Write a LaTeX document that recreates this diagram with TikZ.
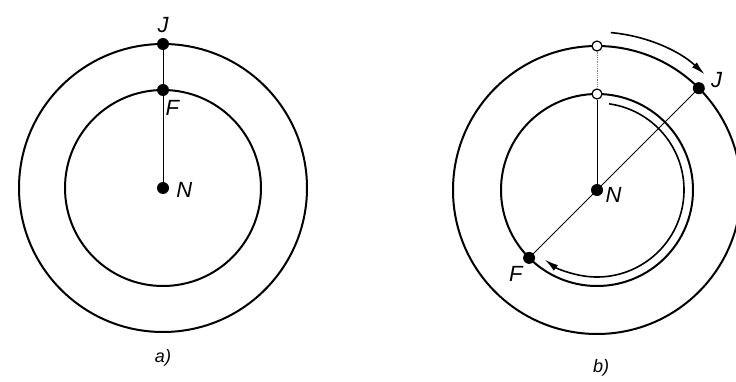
\documentclass[tikz,border=0pt]{standalone}
\usepackage{fontspec}
\setsansfont{Liberation Sans}
\usetikzlibrary{positioning, arrows.meta, calc}

\begin{document}
\begin{tikzpicture}[
    x=1pt, y=1pt,
    every node/.style={font=\sffamily\itshape\fontsize{22}{22}\selectfont, inner sep=1pt},
    % the two orbits
    orbit/.style={line width=2pt},
    % thin lines from the centre
    ray/.style={line width=0.8pt},
    % planets and the sun
    body/.style={circle, fill=black, inner sep=0pt, minimum size=12pt},
    % earlier positions: open dots
    ghost/.style={circle, draw, line width=1.2pt, fill=white, inner sep=0pt, minimum size=10pt},
    % direction of motion
    motion/.style={line width=1.6pt, -{Latex[length=14pt, width=7pt]}},
    caption/.style={font=\sffamily\itshape\fontsize{18}{18}\selectfont}
]
\useasboundingbox (0,0) rectangle (736,381);

% a)
\coordinate (Nac) at (163,193);
\draw[orbit] (Nac) circle[radius=144];
\draw[orbit] (Nac) circle[radius=98];
\draw[ray] (Nac) -- ($(Nac)+(90:144)$);
\node[body] (Na) at (Nac) {};
\node[body] (Fa) at ($(Nac)+(90:98)$) {};
\node[body] (Ja) at ($(Nac)+(90:144)$) {};
\node[above=4pt of Ja] (Jalab) {J};
\node[below right=5pt and -3pt of Fa] (Falab) {F};
\node[right=6pt of Na, yshift=-2pt] (Nalab) {N};
\node[caption] (capa) at (163,23) {a)};

% b)
\coordinate (Nbc) at (597,191);
\draw[orbit] (Nbc) circle[radius=144];
\draw[orbit] (Nbc) circle[radius=96];
\node[ghost] (Jb0) at ($(Nbc)+(90:144)$) {};
\node[ghost] (Fb0) at ($(Nbc)+(90:96)$) {};
\coordinate (Jbc) at ($(Nbc)+(45:144)$);
\coordinate (Fbc) at ($(Nbc)+(225:96)$);
\draw[ray] (Nbc) -- (Fb0);
\draw[ray, densely dotted, gray] (Fb0) -- (Jb0);
\draw[ray] (Jbc) -- (Fbc);
\node[body] (Nb) at (Nbc) {};
\node[body] (Jb) at (Jbc) {};
\node[body] (Fb) at (Fbc) {};
\node[right=5pt of Jb, yshift=8pt] (Jblab) {J};
\node[below left=3pt and 1pt of Fb] (Fblab) {F};
\node[below right=-8pt and 3pt of Nb] (Nblab) {N};
\draw[motion] ($(Nbc)+(85:158)$) arc[start angle=85, end angle=47, radius=158];
\draw[motion] ($(Nbc)+(82:87)$) arc[start angle=82, end angle=-127, radius=87];
\node[caption] (capb) at (601,13) {b)};

\end{tikzpicture}
\end{document}
